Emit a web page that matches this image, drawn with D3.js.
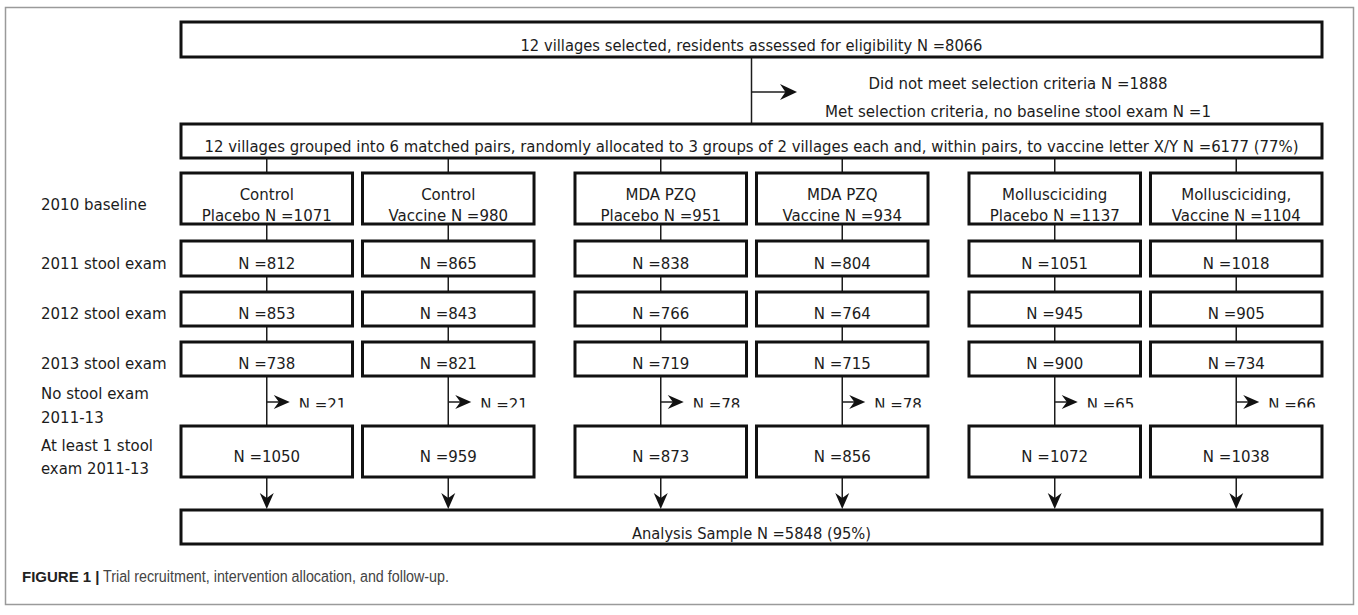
<!DOCTYPE html>
<html>
<head>
<meta charset="utf-8">
<script src="https://cdn.jsdelivr.net/npm/d3@7"></script>
<style>
  body { margin: 0; background: #fff; }
  svg { display: block; }
  text { font-family: "DejaVu Sans", sans-serif; fill: #1c1c1c; }
</style>
</head>
<body>
<svg id="chart"></svg>
<script>
// ---- data ----
const groups = ["Control", "MDA PZQ", "Mollusciciding"];
const arms = ["Placebo", "Vaccine"];
const armTitles = ["Control", "Control", "MDA PZQ", "MDA PZQ", "Mollusciciding", "Mollusciciding,"];
const baselineN = [1071, 980, 951, 934, 1137, 1104];
const exam2011N = [812, 865, 838, 804, 1051, 1018];
const exam2012N = [853, 843, 766, 764, 945, 905];
const exam2013N = [738, 821, 719, 715, 900, 734];
const noStoolN = [21, 21, 78, 78, 65, 66];
const atLeastOneN = [1050, 959, 873, 856, 1072, 1038];
const stageLabels = ["2010 baseline", "2011 stool exam", "2012 stool exam", "2013 stool exam"];
const noStoolLabel = ["No stool exam", "2011-13"];
const atLeastLabel = ["At least 1 stool", "exam 2011-13"];
const assessedN = 8066;
const notMetN = 1888;
const noBaselineN = 1;
const allocatedN = 6177, allocatedPct = 77;
const analysisN = 5848, analysisPct = 95;

// ---- layout ----
const W = 1358, H = 615;
const svg = d3.select('#chart').attr('width', W).attr('height', H);

const xGroup = d3.scaleBand().domain(groups).range([181, 1322]).paddingInner(0.104);
const xArm = d3.scaleBand().domain(arms).range([0, xGroup.bandwidth()]).paddingInner(0.055);

const cols = d3.range(6).map(i => {
    const x0 = xGroup(groups[Math.floor(i / 2)]) + xArm(arms[i % 2]);
    return { i: i, x0: x0, w: xArm.bandwidth(), cx: x0 + xArm.bandwidth() / 2 };
});

const left = 181, right = 1322, mid = (left + right) / 2;
const rows = {
    top: [22, 57],
    alloc: [124, 158],
    base: [173, 224],
    exams: [[241, 276], [292, 326], [342, 376]],
    drop: 402,
    atLeast: [426, 477],
    analysis: [510, 544]
};

// outer frame
svg.append('rect')
    .attr('x', 5.5).attr('y', 7.5)
    .attr('width', 1348).attr('height', 597)
    .attr('fill', 'none').attr('stroke', '#9a9a9a').attr('stroke-width', 1.5);

const lines = svg.append('g').attr('stroke', '#1c1c1c').attr('stroke-width', 1.5);
const boxes = svg.append('g');
const labels = svg.append('g');

function vline(x, y1, y2) {
    lines.append('line').attr('x1', x).attr('x2', x).attr('y1', y1).attr('y2', y2);
}
function hline(x1, x2, y) {
    lines.append('line').attr('x1', x1).attr('x2', x2).attr('y1', y).attr('y2', y);
}
function arrowRight(x, y, len, half) {
    svg.append('path')
        .attr('d', `M${x},${y}L${x - len},${y - half}L${x - len * 0.68},${y}L${x - len},${y + half}Z`)
        .attr('fill', '#111');
}
function arrowDown(x, y) {
    svg.append('path')
        .attr('d', `M${x},${y}L${x - 7},${y - 16}L${x},${y - 11}L${x + 7},${y - 16}Z`)
        .attr('fill', '#111');
}
function box(x0, y0, w, h) {
    boxes.append('rect')
        .attr('x', x0).attr('y', y0).attr('width', w).attr('height', h)
        .attr('fill', '#fff').attr('stroke', '#111').attr('stroke-width', 3);
}
function txt(x, y, s, len) {
    const t = labels.append('text')
        .attr('x', x).attr('y', y)
        .attr('text-anchor', 'middle')
        .attr('font-size', '15px')
        .text(s);
    if (len) t.attr('textLength', len).attr('lengthAdjust', 'spacingAndGlyphs');
    return t;
}

// top: assessed -> exclusions -> allocated
vline(mid, rows.top[1], rows.alloc[0]);
hline(mid, 795, 92);
arrowRight(797, 92, 17, 8);
box(left, rows.top[0], right - left, rows.top[1] - rows.top[0]);
txt(mid, 51, `12 villages selected, residents assessed for eligibility N =${assessedN}`, 462);
txt(1018, 89, `Did not meet selection criteria N =${notMetN}`, 299);
txt(1018, 116.5, `Met selection criteria, no baseline stool exam N =${noBaselineN}`, 386);

box(left, rows.alloc[0], right - left, rows.alloc[1] - rows.alloc[0]);
txt(mid, 152, `12 villages grouped into 6 matched pairs, randomly allocated to 3 groups of 2 villages each and, within pairs, to vaccine letter X/Y N =${allocatedN} (${allocatedPct}%)`, 1094);

// per-arm columns
const examSeries = [exam2011N, exam2012N, exam2013N];
cols.forEach(c => {
    vline(c.cx, rows.alloc[1], rows.base[0]);
    vline(c.cx, rows.base[1], rows.exams[0][0]);
    vline(c.cx, rows.exams[0][1], rows.exams[1][0]);
    vline(c.cx, rows.exams[1][1], rows.exams[2][0]);
    vline(c.cx, rows.exams[2][1], rows.atLeast[0]);
    vline(c.cx, rows.atLeast[1], rows.analysis[0] - 4);
    hline(c.cx, c.cx + 20, rows.drop);
    arrowRight(c.cx + 23, rows.drop, 16, 7);
    arrowDown(c.cx, rows.analysis[0] - 1);

    box(c.x0, rows.base[0], c.w, rows.base[1] - rows.base[0]);
    txt(c.cx, 199.5, armTitles[c.i]);
    txt(c.cx, 221, `${arms[c.i % 2]} N =${baselineN[c.i]}`);

    examSeries.forEach((series, k) => {
        const r = rows.exams[k];
        box(c.x0, r[0], c.w, r[1] - r[0]);
        txt(c.cx, r[1] - 7.5, `N =${series[c.i]}`);
    });

    box(c.x0, rows.atLeast[0], c.w, rows.atLeast[1] - rows.atLeast[0]);
    txt(c.cx, 461.5, `N =${atLeastOneN[c.i]}`);
});

// "no stool exam" counts (clipped in the original figure)
svg.append('clipPath').attr('id', 'dropclip')
    .append('rect').attr('x', 0).attr('y', 385).attr('width', W).attr('height', 22.5);
svg.append('g').attr('clip-path', 'url(#dropclip)')
    .selectAll('text').data(cols).join('text')
    .attr('x', d => d.cx + 32)
    .attr('y', 410)
    .attr('font-size', '15px')
    .text(d => `N =${noStoolN[d.i]}`);

// analysis sample
box(left, rows.analysis[0], right - left, rows.analysis[1] - rows.analysis[0]);
txt(mid, 538.5, `Analysis Sample N =${analysisN} (${analysisPct}%)`, 239);

// stage labels on the left
const stageY = [209.5, 268.5, 318.5, 368.5];
labels.selectAll('.stage').data(stageLabels).join('text')
    .attr('class', 'stage')
    .attr('x', 41).attr('y', (d, i) => stageY[i])
    .attr('font-size', '15px')
    .text(d => d);
noStoolLabel.forEach((s, i) => {
    labels.append('text').attr('x', 41).attr('y', 398.5 + i * 24).attr('font-size', '15px').text(s);
});
atLeastLabel.forEach((s, i) => {
    labels.append('text').attr('x', 41).attr('y', 450.5 + i * 23)
        .attr('font-size', '15px')
        .attr('textLength', i === 0 ? 112 : 108).attr('lengthAdjust', 'spacingAndGlyphs')
        .text(s);
});

// caption
svg.append('text')
    .attr('x', 22).attr('y', 582)
    .style('font-family', '"Liberation Sans", Arial, sans-serif')
    .style('font-weight', 'bold').style('fill', '#222')
    .attr('font-size', '15px')
    .text('FIGURE 1 |');
svg.append('text')
    .attr('x', 103).attr('y', 582)
    .style('font-family', '"Liberation Sans", Arial, sans-serif')
    .style('fill', '#444')
    .attr('font-size', '16px')
    .attr('textLength', 346).attr('lengthAdjust', 'spacingAndGlyphs')
    .text('Trial recruitment, intervention allocation, and follow-up.');
</script>
</body>
</html>
